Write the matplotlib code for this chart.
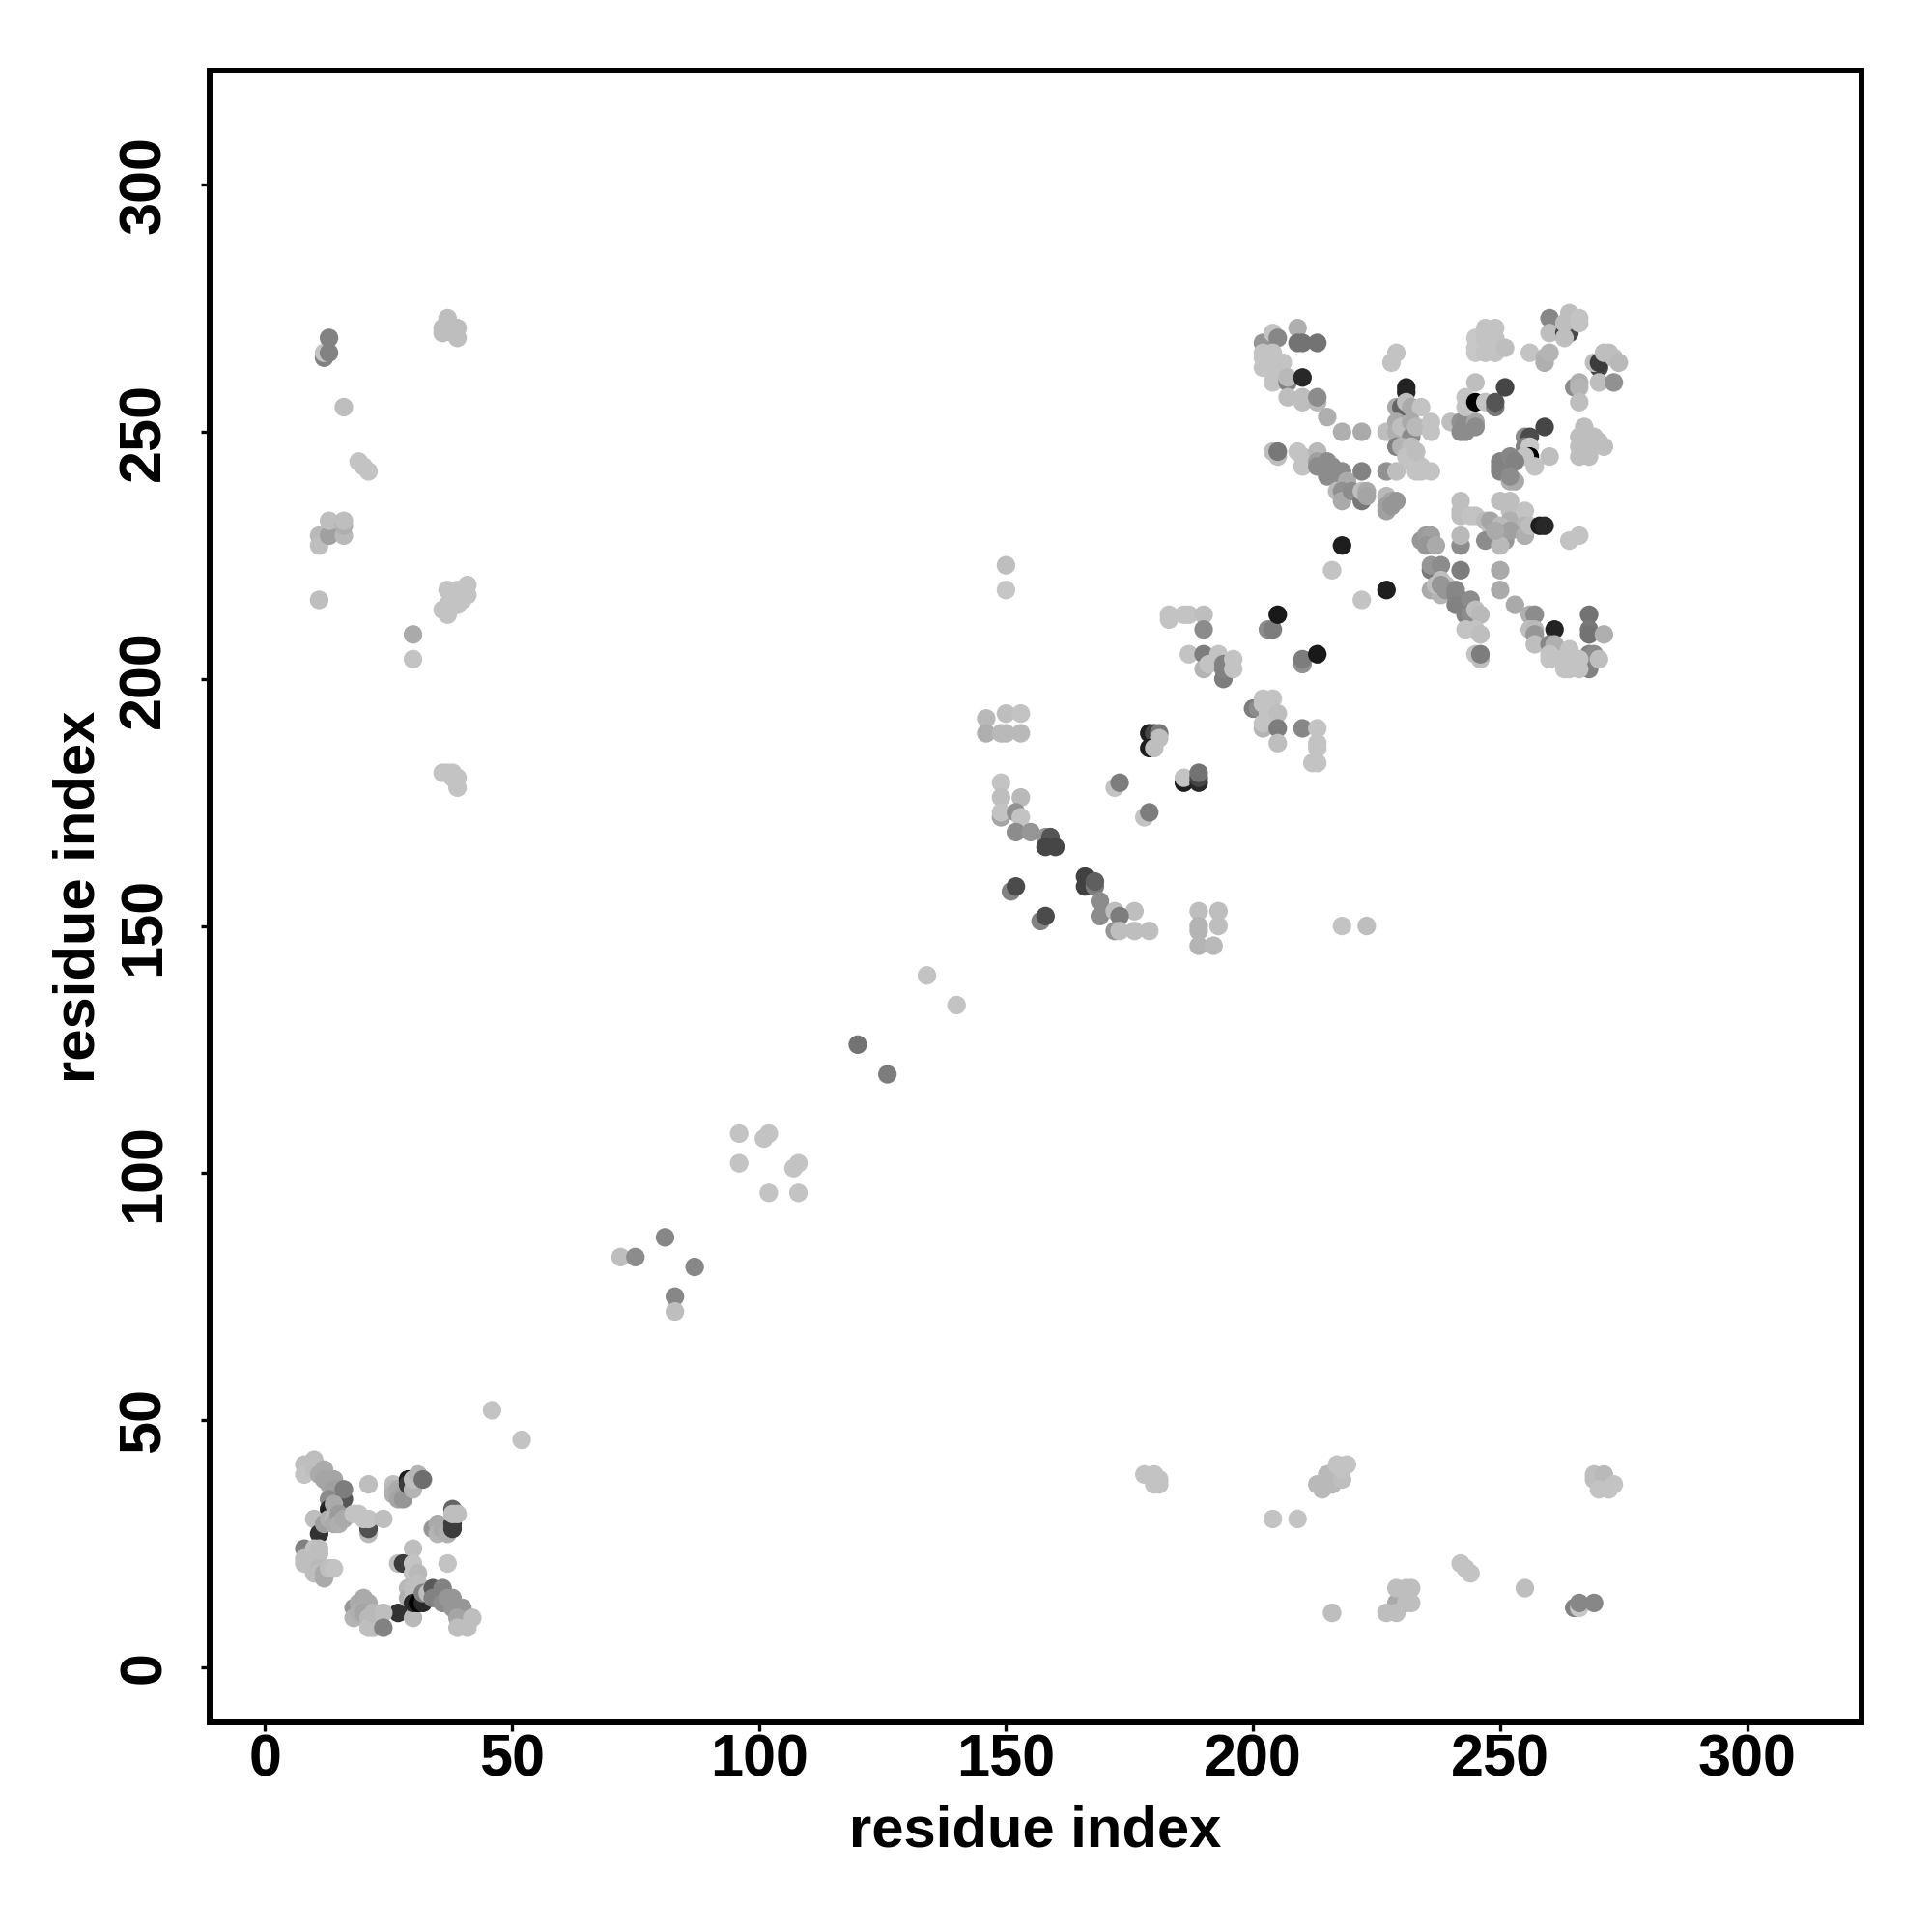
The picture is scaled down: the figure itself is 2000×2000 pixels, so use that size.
import matplotlib
matplotlib.use('Agg')
import matplotlib.pyplot as plt

# contacts as (residue x, residue y, grey level 0-255)
low_left = [
    (8, 41, 190), (8, 39, 195), (10, 42, 190), (10, 40, 190), (12, 40, 170), (11, 39, 170),
    (12, 38, 165), (13, 37, 165), (14, 38, 165), (14, 36, 160), (13, 34, 140), (13, 32, 40),
    (13, 31, 30), (16, 34, 85), (16, 36, 125), (14, 33, 170), (10, 30, 190), (11, 27, 50),
    (12, 29, 160), (13, 30, 175), (14, 30, 185), (14, 29, 170), (15, 31, 155), (15, 29, 175),
    (16, 30, 170), (18, 31, 195), (21, 37, 190), (21, 27, 185), (21, 28, 80), (21, 29, 80),
    (19, 31, 195), (20, 30, 195), (21, 30, 195), (24, 30, 190),
    (8, 24, 130), (8, 22, 190), (8, 21, 190), (10, 24, 195), (10, 22, 190), (10, 21, 190), (11, 23, 190),
    (11, 24, 190), (10, 19, 190), (11, 20, 185), (11, 19, 190), (12, 19, 170), (12, 18, 170), (13, 20, 190),
    (14, 20, 195),
    (26, 37, 190), (26, 36, 185), (26, 35, 175), (27, 36, 170), (27, 34, 165), (28, 35, 165), (28, 34, 150),
    (29, 38, 30), (29, 37, 60), (30, 36, 180), (30, 38, 190), (31, 39, 180), (32, 38, 110),
    (34, 28, 150), (35, 29, 170), (35, 27, 180), (36, 28, 170), (37, 27, 175), (38, 32, 100), (38, 29, 60),
    (38, 28, 60), (38, 31, 190), (39, 31, 190), (37, 21, 195),
    (30, 24, 190), (27, 21, 190), (28, 21, 60), (30, 21, 195), (30, 19, 195), (31, 19, 185), (31, 17, 190),
    (27, 11, 50), (30, 10, 185), (29, 16, 185), (29, 14, 175), (30, 16, 190), (30, 14, 190), (30, 13, 40),
    (31, 13, 0), (32, 13, 40), (32, 15, 130), (33, 15, 190), (34, 16, 90), (34, 14, 130),
    (36, 16, 130), (36, 13, 140), (37, 14, 150), (38, 14, 150), (38, 12, 150), (40, 12, 150),
    (39, 10, 165), (39, 8, 190), (41, 8, 190), (42, 10, 190),
    (18, 12, 150), (20, 14, 170), (19, 13, 170), (18, 10, 180), (19, 11, 175), (21, 13, 170),
    (20, 11, 165), (21, 10, 185), (21, 8, 190), (22, 8, 190), (22, 11, 185), (24, 11, 190), (24, 8, 130),
]

top_left = [
    (12, 265, 130), (12, 266, 195), (13, 266, 130), (13, 269, 130), (16, 255, 190), (19, 244, 195),
    (20, 243, 195), (21, 242, 195), (11, 229, 185), (11, 227, 190), (11, 216, 190), (13, 229, 160),
    (13, 232, 190), (16, 229, 185), (16, 231, 175), (16, 232, 190), (30, 209, 170), (30, 204, 195),
    (36, 271, 190), (36, 270, 190), (37, 273, 190), (38, 270, 190), (39, 269, 190), (39, 271, 190),
    (36, 214, 195), (37, 213, 195), (37, 215, 195), (37, 218, 195), (39, 215, 195), (39, 218, 195),
    (40, 216, 195), (41, 219, 195), (41, 217, 195),
    (36, 181, 195), (37, 181, 195), (38, 181, 195), (38, 180, 195), (39, 180, 195), (39, 178, 195),
]

diagonal = [
    (46, 52, 195), (52, 46, 195), (72, 83, 190), (75, 83, 140), (81, 87, 135), (83, 75, 135),
    (83, 72, 190), (87, 81, 135), (96, 108, 195), (96, 102, 195), (101, 107, 195), (102, 108, 195),
    (102, 96, 195), (107, 101, 195), (108, 102, 195), (108, 96, 195), (120, 126, 115), (126, 120, 125),
    (134, 140, 195), (140, 134, 195),
]

middle = [
    (150, 223, 190), (150, 218, 198), (146, 192, 185), (150, 193, 190), (153, 193, 195), (146, 189, 175),
    (149, 189, 185), (150, 189, 185), (153, 189, 185), (149, 179, 195), (149, 176, 190), (153, 176, 185),
    (149, 172, 165), (149, 173, 195), (152, 173, 145), (153, 172, 195), (152, 169, 140), (155, 169, 150),
    (158, 168, 150), (159, 168, 85), (158, 166, 70), (160, 166, 70), (151, 157, 130), (152, 158, 75),
    (157, 151, 130), (158, 152, 75), (166, 160, 65), (166, 158, 65), (168, 158, 125), (168, 159, 95),
    (169, 155, 140), (169, 152, 140), (172, 153, 190), (176, 153, 190), (173, 152, 125), (172, 149, 150),
    (173, 149, 190), (176, 149, 190), (179, 149, 190), (189, 153, 190), (193, 153, 190), (189, 150, 180),
    (193, 150, 190), (189, 149, 180), (189, 146, 180), (192, 146, 185), (218, 150, 195), (223, 150, 190),
    (172, 178, 195), (173, 179, 125), (178, 172, 195), (179, 173, 125), (179, 189, 30), (180, 189, 70),
    (181, 189, 120), (181, 188, 190), (179, 186, 30), (180, 186, 190), (186, 179, 30), (186, 180, 195),
    (189, 179, 40), (189, 180, 70), (189, 181, 115), (183, 213, 195), (183, 212, 195), (186, 213, 195),
    (187, 213, 195), (190, 213, 190), (190, 210, 140), (187, 205, 195), (190, 205, 125), (193, 205, 195),
    (190, 202, 180), (191, 203, 195), (194, 200, 125), (194, 202, 130), (194, 203, 130), (196, 204, 195),
    (196, 202, 195), (203, 210, 140), (204, 210, 125), (205, 213, 25), (210, 203, 145), (210, 204, 125),
    (213, 205, 25), (200, 194, 125), (201, 194, 140), (202, 196, 195), (204, 196, 195), (202, 195, 195),
    (203, 193, 195), (205, 193, 190), (202, 190, 180), (202, 191, 195), (205, 190, 125), (205, 187, 190),
    (210, 190, 135), (213, 190, 195), (213, 187, 195), (213, 186, 195), (212, 183, 195), (213, 183, 195),
    (218, 227, 30), (216, 222, 195), (227, 218, 30), (222, 216, 195),
]

top_right = [
    (202, 268, 150), (204, 270, 195), (205, 269, 135), (209, 271, 175), (209, 268, 115), (210, 268, 115),
    (213, 268, 115), (202, 266, 195), (202, 265, 195), (202, 263, 195), (204, 266, 195), (204, 264, 195),
    (205, 264, 195), (204, 262, 195), (204, 260, 195), (206, 264, 195), (207, 260, 130), (207, 261, 185),
    (210, 261, 40), (207, 257, 190), (210, 257, 190), (210, 256, 190), (213, 256, 185), (213, 257, 140),
    (215, 253, 175), (218, 250, 175), (222, 250, 170), (204, 246, 190), (205, 245, 190), (205, 246, 120),
    (209, 246, 195), (210, 245, 195), (210, 243, 195), (213, 246, 185), (213, 244, 160), (213, 243, 140),
    (215, 244, 140), (216, 243, 140), (215, 241, 140), (218, 242, 140), (218, 241, 140), (217, 238, 185),
    (219, 240, 170), (218, 238, 145), (218, 236, 170), (220, 238, 140), (222, 236, 120), (222, 238, 190),
    (223, 238, 170), (223, 237, 165), (222, 242, 130), (227, 242, 145), (229, 242, 190), (233, 242, 195),
    (234, 242, 195), (236, 242, 195), (233, 244, 195), (232, 244, 195), (234, 243, 195), (227, 237, 185),
    (227, 234, 160), (228, 236, 165), (229, 236, 150), (227, 235, 160), (228, 235, 150),
    (229, 266, 195), (228, 264, 195), (231, 259, 35), (231, 258, 35), (229, 255, 170), (230, 255, 100),
    (231, 256, 190), (232, 255, 170), (234, 255, 195), (227, 250, 190), (229, 252, 170), (229, 250, 175),
    (230, 251, 190), (232, 252, 170), (232, 249, 140), (233, 251, 185), (236, 252, 195), (236, 250, 195),
    (229, 247, 130), (230, 247, 180), (232, 247, 190), (231, 245, 195), (233, 246, 190),
    (240, 252, 190), (242, 252, 145), (242, 250, 140), (243, 250, 140), (243, 252, 140), (245, 252, 165),
    (245, 251, 140), (245, 260, 190), (243, 257, 195), (243, 255, 195), (245, 256, 0), (247, 256, 195),
    (249, 255, 120), (249, 256, 85), (251, 259, 70),
    (245, 269, 200), (245, 267, 200), (245, 266, 200), (247, 271, 195), (249, 271, 195), (247, 269, 195),
    (249, 269, 195), (247, 266, 195), (248, 268, 195), (249, 266, 195), (251, 267, 190), (256, 266, 195),
    (259, 265, 180), (259, 264, 175), (260, 266, 180), (260, 273, 135), (260, 270, 190), (263, 270, 70),
    (264, 270, 75), (263, 269, 190), (264, 274, 190), (263, 272, 190), (265, 273, 190), (266, 273, 195),
    (266, 272, 195),
    (270, 263, 70), (269, 264, 190), (270, 264, 60), (265, 259, 140), (266, 260, 175), (266, 259, 180),
    (266, 256, 190), (270, 260, 190), (273, 260, 145), (271, 266, 190), (272, 266, 190), (273, 265, 190),
    (274, 264, 185),
    (267, 251, 190), (266, 249, 190), (267, 249, 190), (266, 247, 190), (266, 245, 190), (268, 245, 190),
    (268, 247, 190), (269, 249, 190), (270, 248, 190), (271, 247, 190),
    (259, 251, 70), (255, 249, 140), (256, 249, 75), (255, 247, 130), (256, 247, 200), (256, 245, 0),
    (255, 245, 195), (257, 243, 195), (260, 245, 190), (250, 244, 130), (250, 243, 130), (250, 242, 130),
    (252, 245, 135), (253, 244, 130), (252, 240, 175), (253, 240, 170), (252, 241, 140),
]

bottom_of_block = [
    (242, 236, 190), (242, 234, 190), (242, 233, 190), (244, 233, 195), (245, 233, 195), (247, 232, 185),
    (248, 231, 190), (247, 228, 140), (248, 232, 165), (250, 236, 190), (252, 236, 190), (252, 234, 190),
    (252, 232, 175), (255, 234, 195), (255, 230, 90), (255, 231, 180), (250, 231, 185), (250, 229, 170),
    (251, 228, 150), (252, 230, 160), (250, 227, 185), (255, 229, 175), (256, 231, 190), (249, 230, 170),
    (258, 231, 30), (259, 231, 40), (264, 228, 195), (266, 229, 195), (242, 227, 140), (242, 229, 185),
    (234, 228, 150), (235, 229, 155), (236, 229, 160), (235, 227, 150), (237, 227, 170),
    (250, 222, 170), (250, 218, 170), (253, 215, 170), (242, 222, 125), (236, 222, 120), (236, 223, 150),
    (238, 223, 140), (236, 218, 170), (238, 218, 170), (238, 220, 190), (238, 217, 180), (237, 219, 190),
    (239, 219, 190), (238, 219, 150), (239, 218, 150), (241, 218, 135), (241, 217, 135), (242, 216, 135),
    (241, 215, 130), (244, 216, 140), (243, 213, 130), (244, 213, 140), (245, 214, 190), (246, 213, 185),
    (243, 210, 195), (245, 210, 195), (246, 209, 190), (245, 205, 195), (246, 204, 190), (246, 205, 125),
    (256, 213, 175), (257, 213, 140), (256, 210, 190), (257, 210, 185), (257, 209, 150), (257, 207, 190),
    (261, 210, 35), (260, 207, 135), (261, 207, 175), (268, 213, 115), (268, 210, 120), (268, 209, 115),
    (271, 209, 175),
    (268, 202, 130), (268, 205, 130), (269, 205, 140), (260, 205, 195), (260, 204, 195), (262, 204, 195),
    (264, 206, 195), (264, 204, 195), (264, 202, 195), (263, 202, 195), (266, 204, 195), (266, 202, 195),
    (270, 204, 190),
]

low_right = [
    (178, 39, 195), (180, 39, 195), (180, 37, 195), (181, 37, 195), (181, 38, 195), (204, 30, 195),
    (209, 30, 195), (216, 11, 190), (213, 37, 185), (214, 36, 185), (215, 39, 185), (216, 37, 185),
    (218, 38, 190), (217, 41, 195), (219, 41, 195), (218, 40, 195),
    (229, 13, 170), (227, 11, 190), (229, 11, 190), (229, 16, 190), (231, 16, 190), (232, 16, 190),
    (232, 13, 190), (231, 13, 190), (242, 21, 195), (243, 20, 195), (244, 19, 195), (255, 16, 190),
    (265, 12, 130), (266, 12, 200), (266, 13, 135), (269, 13, 135),
    (269, 38, 190), (269, 39, 190), (271, 39, 185), (270, 36, 195), (272, 36, 195), (273, 37, 195),
]

tick_values = [0, 50, 100, 150, 200, 250, 300]


def main():
    plt.rcParams['font.family'] = ['Liberation Sans', 'DejaVu Sans']
    plt.rcParams['font.weight'] = 'bold'

    fig = plt.figure(figsize=(10, 10), dpi=200)
    ax = fig.add_axes([0.1084, 0.1084, 0.8553, 0.8553])

    clusters = [low_left, top_left, diagonal, middle, top_right, bottom_of_block, low_right]
    for cluster in clusters:
        xs = [p[0] for p in cluster]
        ys = [p[1] for p in cluster]
        greys = [str(p[2] / 255) for p in cluster]
        ax.scatter(xs, ys, c=greys, s=48, linewidths=0, zorder=2)

    ax.set_xlim(-11.2, 323.2)
    ax.set_ylim(-11.2, 323.2)
    ax.set_xticks(tick_values)
    ax.set_yticks(tick_values)
    ax.tick_params(axis='both', length=3.2, width=1.2, labelsize=22)
    ax.tick_params(axis='x', pad=1)
    ax.tick_params(axis='y', pad=10.5)
    for label in ax.get_yticklabels():
        label.set_rotation(90)
        label.set_va('center')
    for spine in ax.spines.values():
        spine.set_linewidth(2.15)

    ax.set_xlabel('residue index', fontsize=21.5, fontweight='bold', labelpad=6)
    ax.set_ylabel('residue index', fontsize=21.5, fontweight='bold', labelpad=4.5)

    fig.savefig('out.png', dpi=200)


if __name__ == '__main__':
    main()
